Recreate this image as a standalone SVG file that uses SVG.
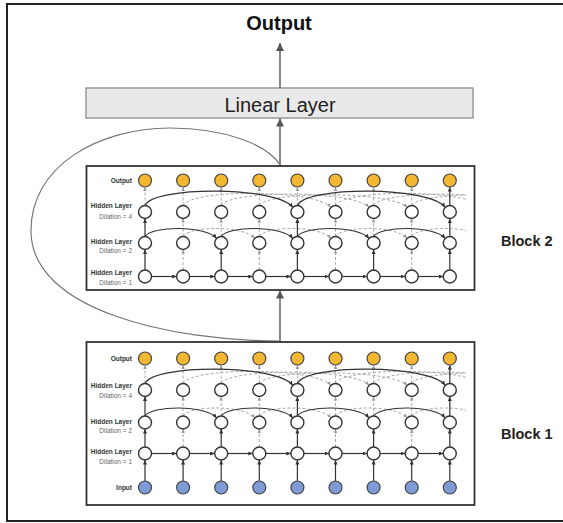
<svg xmlns="http://www.w3.org/2000/svg" width="563" height="523" viewBox="0 0 563 523">
<style>
.frame{fill:none;stroke:#222;stroke-width:2}
.blk{fill:#fff;stroke:#333;stroke-width:1.8}
.lin{fill:#e9e9e9;stroke:#999;stroke-width:1.5}
.big{stroke:#555;stroke-width:1.4;fill:none;marker-end:url(#ab)}
.loop{stroke:#777;stroke-width:1.2;fill:none}
.s{stroke:#333;stroke-width:1.2;fill:none;marker-end:url(#as)}
.d{stroke:#aaa;stroke-width:1;stroke-dasharray:3 2;fill:none;marker-end:url(#ad)}
.h{fill:#fff;stroke:#333;stroke-width:1.4}
.o{fill:#f4b731;stroke:#444;stroke-width:1.2}
.i{fill:#7f9bd6;stroke:#444;stroke-width:1.2}
text{font-family:"Liberation Sans",Arial,sans-serif}
.lb{font-size:6.5px;font-weight:bold;fill:#333;text-anchor:end}
.lr{font-size:6.5px;fill:#666;text-anchor:end}
.bl{font-size:14.5px;font-weight:bold;fill:#222}
</style>
<defs>
<marker id="ab" markerUnits="userSpaceOnUse" markerWidth="8" markerHeight="9" viewBox="0 0 8 9" refX="8" refY="4.5" orient="auto"><path d="M0,0.5 L8,4.5 L0,8.5 z" fill="#555"/></marker>
<marker id="as" markerUnits="userSpaceOnUse" markerWidth="4.5" markerHeight="4" viewBox="0 0 4.5 4" refX="4.5" refY="2" orient="auto"><path d="M0,0 L4.5,2 L0,4 z" fill="#333"/></marker>
<marker id="ad" markerUnits="userSpaceOnUse" markerWidth="4" markerHeight="4" viewBox="0 0 4 4" refX="4" refY="2" orient="auto"><path d="M0,0.3 L4,2 L0,3.7 z" fill="#999"/></marker>
<clipPath id="c2"><rect x="87" y="166" width="379" height="124"/></clipPath>
<clipPath id="c1"><rect x="87" y="342" width="379" height="163"/></clipPath>
</defs>

<path class="frame" d="M564,4 H7 V521 H564"/>

<g id="output-title"><text x="279" y="30" font-size="20" font-weight="bold" fill="#111" text-anchor="middle">Output</text></g>

<g id="linear-layer"><rect class="lin" x="86" y="88" width="387" height="30"/><text x="280" y="111.5" font-size="20" fill="#222" text-anchor="middle">Linear Layer</text></g>

<g id="connectors">
<line class="big" x1="280" y1="88" x2="280" y2="43"/>
<line class="big" x1="280" y1="166" x2="280" y2="118.5"/>
<line class="big" x1="280" y1="342" x2="280" y2="290.5"/>
<path class="loop" d="M280,341 C170,341 32,310 31,232 C30,165 100,128 170,128 C225,128 268,145 280,165"/>
</g>

<g id="block2">
<rect class="blk" x="86.5" y="166" width="388" height="124"/>
<g id="block2-connectors">
<g clip-path="url(#c2)">
<path class="d" d="M183.1,236.5 C189.1,226 243.3,225 254.7,238.4"/>
<path class="d" d="M259.3,236.5 C265.3,226 319.5,225 330.9,238.4"/>
<path class="d" d="M335.5,236.5 C341.5,226 395.7,225 407.1,238.4"/>
<path class="d" d="M411.7,236.5 C417.7,226 471.9,225 483.3,238.4"/>
<path class="d" d="M183.1,205.5 C191.1,189 315.5,189 330.9,207.4"/>
<path class="d" d="M221.2,205.5 C229.2,190 353.6,190 369,207.4"/>
<path class="d" d="M259.3,205.5 C267.3,191 391.7,191 407.1,207.4"/>
<path class="d" d="M335.5,205.5 C343.5,189 467.9,189 483.3,207.4"/>
<path class="d" d="M373.6,205.5 C381.6,190 506,190 521.4,207.4"/>
<path class="d" d="M411.7,205.5 C419.7,191 544.1,191 559.5,207.4"/>
</g>
<line class="d" x1="183.1" y1="270" x2="183.1" y2="249.5"/>
<line class="d" x1="259.3" y1="270" x2="259.3" y2="249.5"/>
<line class="d" x1="335.5" y1="270" x2="335.5" y2="249.5"/>
<line class="d" x1="411.7" y1="270" x2="411.7" y2="249.5"/>
<line class="d" x1="183.1" y1="236.5" x2="183.1" y2="218.5"/>
<line class="d" x1="221.2" y1="236.5" x2="221.2" y2="218.5"/>
<line class="d" x1="259.3" y1="236.5" x2="259.3" y2="218.5"/>
<line class="d" x1="335.5" y1="236.5" x2="335.5" y2="218.5"/>
<line class="d" x1="373.6" y1="236.5" x2="373.6" y2="218.5"/>
<line class="d" x1="411.7" y1="236.5" x2="411.7" y2="218.5"/>
<line class="d" x1="145" y1="205.5" x2="145" y2="187"/>
<line class="d" x1="183.1" y1="205.5" x2="183.1" y2="187"/>
<line class="d" x1="221.2" y1="205.5" x2="221.2" y2="187"/>
<line class="d" x1="259.3" y1="205.5" x2="259.3" y2="187"/>
<line class="d" x1="297.4" y1="205.5" x2="297.4" y2="187"/>
<line class="d" x1="335.5" y1="205.5" x2="335.5" y2="187"/>
<line class="d" x1="373.6" y1="205.5" x2="373.6" y2="187"/>
<line class="d" x1="411.7" y1="205.5" x2="411.7" y2="187"/>
<path class="s" d="M145,236.5 C151,226 205.2,225 216.6,238.4"/>
<path class="s" d="M221.2,236.5 C227.2,226 281.4,225 292.8,238.4"/>
<path class="s" d="M297.4,236.5 C303.4,226 357.6,225 369,238.4"/>
<path class="s" d="M373.6,236.5 C379.6,226 433.8,225 445.2,238.4"/>
<path class="s" d="M145,205.5 C153,186 277.4,186 292.8,207.4"/>
<path class="s" d="M297.4,205.5 C305.4,186 429.8,186 445.2,207.4"/>
<line class="s" x1="151.5" y1="276.5" x2="176.6" y2="276.5"/>
<line class="s" x1="189.6" y1="276.5" x2="214.7" y2="276.5"/>
<line class="s" x1="227.7" y1="276.5" x2="252.8" y2="276.5"/>
<line class="s" x1="265.8" y1="276.5" x2="290.9" y2="276.5"/>
<line class="s" x1="303.9" y1="276.5" x2="329" y2="276.5"/>
<line class="s" x1="342" y1="276.5" x2="367.1" y2="276.5"/>
<line class="s" x1="380.1" y1="276.5" x2="405.2" y2="276.5"/>
<line class="s" x1="418.2" y1="276.5" x2="443.3" y2="276.5"/>
<line class="s" x1="145" y1="270" x2="145" y2="249.5"/>
<line class="s" x1="221.2" y1="270" x2="221.2" y2="249.5"/>
<line class="s" x1="297.4" y1="270" x2="297.4" y2="249.5"/>
<line class="s" x1="373.6" y1="270" x2="373.6" y2="249.5"/>
<line class="s" x1="449.8" y1="270" x2="449.8" y2="249.5"/>
<line class="s" x1="145" y1="236.5" x2="145" y2="218.5"/>
<line class="s" x1="297.4" y1="236.5" x2="297.4" y2="218.5"/>
<line class="s" x1="449.8" y1="236.5" x2="449.8" y2="218.5"/>
<line class="s" x1="449.8" y1="205.5" x2="449.8" y2="187"/>
</g>
<g id="block2-nodes">
<circle class="o" cx="145" cy="180.5" r="6.5"/><circle class="o" cx="183.1" cy="180.5" r="6.5"/><circle class="o" cx="221.2" cy="180.5" r="6.5"/><circle class="o" cx="259.3" cy="180.5" r="6.5"/><circle class="o" cx="297.4" cy="180.5" r="6.5"/><circle class="o" cx="335.5" cy="180.5" r="6.5"/><circle class="o" cx="373.6" cy="180.5" r="6.5"/><circle class="o" cx="411.7" cy="180.5" r="6.5"/><circle class="o" cx="449.8" cy="180.5" r="6.5"/>
<circle class="h" cx="145" cy="212" r="6.5"/><circle class="h" cx="183.1" cy="212" r="6.5"/><circle class="h" cx="221.2" cy="212" r="6.5"/><circle class="h" cx="259.3" cy="212" r="6.5"/><circle class="h" cx="297.4" cy="212" r="6.5"/><circle class="h" cx="335.5" cy="212" r="6.5"/><circle class="h" cx="373.6" cy="212" r="6.5"/><circle class="h" cx="411.7" cy="212" r="6.5"/><circle class="h" cx="449.8" cy="212" r="6.5"/>
<circle class="h" cx="145" cy="243" r="6.5"/><circle class="h" cx="183.1" cy="243" r="6.5"/><circle class="h" cx="221.2" cy="243" r="6.5"/><circle class="h" cx="259.3" cy="243" r="6.5"/><circle class="h" cx="297.4" cy="243" r="6.5"/><circle class="h" cx="335.5" cy="243" r="6.5"/><circle class="h" cx="373.6" cy="243" r="6.5"/><circle class="h" cx="411.7" cy="243" r="6.5"/><circle class="h" cx="449.8" cy="243" r="6.5"/>
<circle class="h" cx="145" cy="276.5" r="6.5"/><circle class="h" cx="183.1" cy="276.5" r="6.5"/><circle class="h" cx="221.2" cy="276.5" r="6.5"/><circle class="h" cx="259.3" cy="276.5" r="6.5"/><circle class="h" cx="297.4" cy="276.5" r="6.5"/><circle class="h" cx="335.5" cy="276.5" r="6.5"/><circle class="h" cx="373.6" cy="276.5" r="6.5"/><circle class="h" cx="411.7" cy="276.5" r="6.5"/><circle class="h" cx="449.8" cy="276.5" r="6.5"/>
</g>
<g id="block2-labels">
<text class="lb" x="132" y="182.5">Output</text>
<text class="lb" x="132" y="207.5">Hidden Layer</text><text class="lr" x="132" y="219">Dilation = 4</text>
<text class="lb" x="132" y="244">Hidden Layer</text><text class="lr" x="132" y="253">Dilation = 2</text>
<text class="lb" x="132" y="275">Hidden Layer</text><text class="lr" x="132" y="285">Dilation = 1</text>
</g>
</g>
<g id="block2-title"><text class="bl" x="501" y="246">Block 2</text></g>

<g id="block1">
<rect class="blk" x="86.5" y="342" width="388" height="163"/>
<g id="block1-connectors">
<g clip-path="url(#c1)">
<path class="d" d="M183.1,416 C189.1,405.5 243.3,404.5 254.7,417.9"/>
<path class="d" d="M259.3,416 C265.3,405.5 319.5,404.5 330.9,417.9"/>
<path class="d" d="M335.5,416 C341.5,405.5 395.7,404.5 407.1,417.9"/>
<path class="d" d="M411.7,416 C417.7,405.5 471.9,404.5 483.3,417.9"/>
<path class="d" d="M183.1,383.5 C191.1,367 315.5,367 330.9,385.4"/>
<path class="d" d="M221.2,383.5 C229.2,368 353.6,368 369,385.4"/>
<path class="d" d="M259.3,383.5 C267.3,369 391.7,369 407.1,385.4"/>
<path class="d" d="M335.5,383.5 C343.5,367 467.9,367 483.3,385.4"/>
<path class="d" d="M373.6,383.5 C381.6,368 506,368 521.4,385.4"/>
<path class="d" d="M411.7,383.5 C419.7,369 544.1,369 559.5,385.4"/>
</g>
<line class="d" x1="183.1" y1="447" x2="183.1" y2="429"/>
<line class="d" x1="259.3" y1="447" x2="259.3" y2="429"/>
<line class="d" x1="335.5" y1="447" x2="335.5" y2="429"/>
<line class="d" x1="411.7" y1="447" x2="411.7" y2="429"/>
<line class="d" x1="183.1" y1="416" x2="183.1" y2="396.5"/>
<line class="d" x1="221.2" y1="416" x2="221.2" y2="396.5"/>
<line class="d" x1="259.3" y1="416" x2="259.3" y2="396.5"/>
<line class="d" x1="335.5" y1="416" x2="335.5" y2="396.5"/>
<line class="d" x1="373.6" y1="416" x2="373.6" y2="396.5"/>
<line class="d" x1="411.7" y1="416" x2="411.7" y2="396.5"/>
<line class="d" x1="145" y1="383.5" x2="145" y2="365"/>
<line class="d" x1="183.1" y1="383.5" x2="183.1" y2="365"/>
<line class="d" x1="221.2" y1="383.5" x2="221.2" y2="365"/>
<line class="d" x1="259.3" y1="383.5" x2="259.3" y2="365"/>
<line class="d" x1="297.4" y1="383.5" x2="297.4" y2="365"/>
<line class="d" x1="335.5" y1="383.5" x2="335.5" y2="365"/>
<line class="d" x1="373.6" y1="383.5" x2="373.6" y2="365"/>
<line class="d" x1="411.7" y1="383.5" x2="411.7" y2="365"/>
<path class="s" d="M145,416 C151,405.5 205.2,404.5 216.6,417.9"/>
<path class="s" d="M221.2,416 C227.2,405.5 281.4,404.5 292.8,417.9"/>
<path class="s" d="M297.4,416 C303.4,405.5 357.6,404.5 369,417.9"/>
<path class="s" d="M373.6,416 C379.6,405.5 433.8,404.5 445.2,417.9"/>
<path class="s" d="M145,383.5 C153,364 277.4,364 292.8,385.4"/>
<path class="s" d="M297.4,383.5 C305.4,364 429.8,364 445.2,385.4"/>
<line class="s" x1="151.5" y1="453.5" x2="176.6" y2="453.5"/>
<line class="s" x1="189.6" y1="453.5" x2="214.7" y2="453.5"/>
<line class="s" x1="227.7" y1="453.5" x2="252.8" y2="453.5"/>
<line class="s" x1="265.8" y1="453.5" x2="290.9" y2="453.5"/>
<line class="s" x1="303.9" y1="453.5" x2="329" y2="453.5"/>
<line class="s" x1="342" y1="453.5" x2="367.1" y2="453.5"/>
<line class="s" x1="380.1" y1="453.5" x2="405.2" y2="453.5"/>
<line class="s" x1="418.2" y1="453.5" x2="443.3" y2="453.5"/>
<line class="s" x1="145" y1="481" x2="145" y2="460"/>
<line class="s" x1="183.1" y1="481" x2="183.1" y2="460"/>
<line class="s" x1="221.2" y1="481" x2="221.2" y2="460"/>
<line class="s" x1="259.3" y1="481" x2="259.3" y2="460"/>
<line class="s" x1="297.4" y1="481" x2="297.4" y2="460"/>
<line class="s" x1="335.5" y1="481" x2="335.5" y2="460"/>
<line class="s" x1="373.6" y1="481" x2="373.6" y2="460"/>
<line class="s" x1="411.7" y1="481" x2="411.7" y2="460"/>
<line class="s" x1="449.8" y1="481" x2="449.8" y2="460"/>
<line class="s" x1="145" y1="447" x2="145" y2="429"/>
<line class="s" x1="221.2" y1="447" x2="221.2" y2="429"/>
<line class="s" x1="297.4" y1="447" x2="297.4" y2="429"/>
<line class="s" x1="373.6" y1="447" x2="373.6" y2="429"/>
<line class="s" x1="449.8" y1="447" x2="449.8" y2="429"/>
<line class="s" x1="145" y1="416" x2="145" y2="396.5"/>
<line class="s" x1="297.4" y1="416" x2="297.4" y2="396.5"/>
<line class="s" x1="449.8" y1="416" x2="449.8" y2="396.5"/>
<line class="s" x1="449.8" y1="383.5" x2="449.8" y2="365"/>
</g>
<g id="block1-nodes">
<circle class="o" cx="145" cy="358.5" r="6.5"/><circle class="o" cx="183.1" cy="358.5" r="6.5"/><circle class="o" cx="221.2" cy="358.5" r="6.5"/><circle class="o" cx="259.3" cy="358.5" r="6.5"/><circle class="o" cx="297.4" cy="358.5" r="6.5"/><circle class="o" cx="335.5" cy="358.5" r="6.5"/><circle class="o" cx="373.6" cy="358.5" r="6.5"/><circle class="o" cx="411.7" cy="358.5" r="6.5"/><circle class="o" cx="449.8" cy="358.5" r="6.5"/>
<circle class="h" cx="145" cy="390" r="6.5"/><circle class="h" cx="183.1" cy="390" r="6.5"/><circle class="h" cx="221.2" cy="390" r="6.5"/><circle class="h" cx="259.3" cy="390" r="6.5"/><circle class="h" cx="297.4" cy="390" r="6.5"/><circle class="h" cx="335.5" cy="390" r="6.5"/><circle class="h" cx="373.6" cy="390" r="6.5"/><circle class="h" cx="411.7" cy="390" r="6.5"/><circle class="h" cx="449.8" cy="390" r="6.5"/>
<circle class="h" cx="145" cy="422.5" r="6.5"/><circle class="h" cx="183.1" cy="422.5" r="6.5"/><circle class="h" cx="221.2" cy="422.5" r="6.5"/><circle class="h" cx="259.3" cy="422.5" r="6.5"/><circle class="h" cx="297.4" cy="422.5" r="6.5"/><circle class="h" cx="335.5" cy="422.5" r="6.5"/><circle class="h" cx="373.6" cy="422.5" r="6.5"/><circle class="h" cx="411.7" cy="422.5" r="6.5"/><circle class="h" cx="449.8" cy="422.5" r="6.5"/>
<circle class="h" cx="145" cy="453.5" r="6.5"/><circle class="h" cx="183.1" cy="453.5" r="6.5"/><circle class="h" cx="221.2" cy="453.5" r="6.5"/><circle class="h" cx="259.3" cy="453.5" r="6.5"/><circle class="h" cx="297.4" cy="453.5" r="6.5"/><circle class="h" cx="335.5" cy="453.5" r="6.5"/><circle class="h" cx="373.6" cy="453.5" r="6.5"/><circle class="h" cx="411.7" cy="453.5" r="6.5"/><circle class="h" cx="449.8" cy="453.5" r="6.5"/>
<circle class="i" cx="145" cy="487.5" r="6.5"/><circle class="i" cx="183.1" cy="487.5" r="6.5"/><circle class="i" cx="221.2" cy="487.5" r="6.5"/><circle class="i" cx="259.3" cy="487.5" r="6.5"/><circle class="i" cx="297.4" cy="487.5" r="6.5"/><circle class="i" cx="335.5" cy="487.5" r="6.5"/><circle class="i" cx="373.6" cy="487.5" r="6.5"/><circle class="i" cx="411.7" cy="487.5" r="6.5"/><circle class="i" cx="449.8" cy="487.5" r="6.5"/>
</g>
<g id="block1-labels">
<text class="lb" x="132" y="361">Output</text>
<text class="lb" x="132" y="388">Hidden Layer</text><text class="lr" x="132" y="398">Dilation = 4</text>
<text class="lb" x="132" y="423.5">Hidden Layer</text><text class="lr" x="132" y="432.5">Dilation = 2</text>
<text class="lb" x="132" y="454">Hidden Layer</text><text class="lr" x="132" y="463.5">Dilation = 1</text>
<text class="lb" x="132" y="490">Input</text>
</g>
</g>
<g id="block1-title"><text class="bl" x="501" y="439">Block 1</text></g>
</svg>
